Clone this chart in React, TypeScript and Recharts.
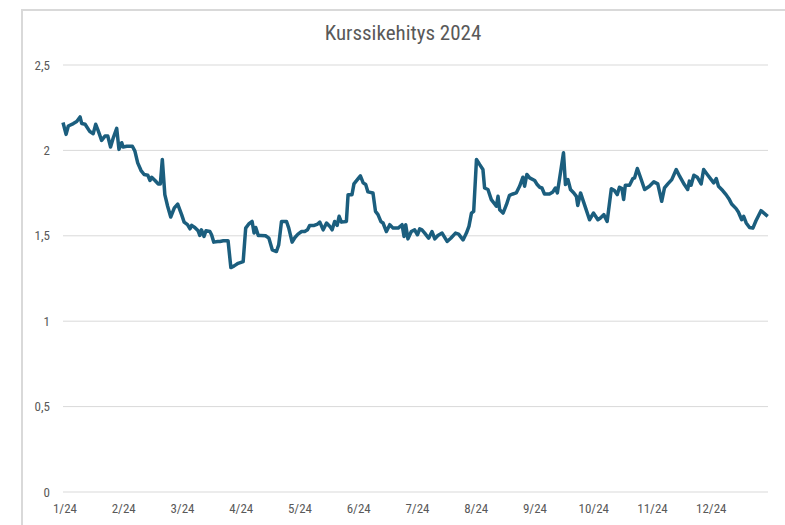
import React from "react";
import { LineChart, Line, XAxis, YAxis, CartesianGrid } from "recharts";

const chartTitle = "Kurssikehitys 2024";

// trading day index (0..252) for each reading
const tradingDays = [
  0, 1.1, 1.9, 3.7, 4.9, 6.1, 6.7, 7.9, 9.6, 10.8, 11.7, 12.6, 13.8, 15, 16, 17, 18, 19.2, 20, 21, 21.5, 22.8,
  24.8, 25.7, 26.7, 27.9, 29, 30.3, 31.1, 31.7, 32.9, 34, 34.8, 35.5, 36.4, 37.4, 38.5, 39.8, 41, 42.4, 43.3,
  44.5, 45.4, 46, 47.1, 48.3, 48.9, 49.5, 50.4, 51.1, 52.5, 53.1, 53.9, 55.3, 56.1, 57.3, 59, 60, 61.2, 62.6,
  64.4, 65.3, 66.4, 67.6, 68.3, 68.9, 69.8, 70.7, 72.4, 73.6, 74.8, 76.3, 77.1, 78.1, 79.9, 80.7, 81.9, 82.9,
  84, 85.3, 86.4, 87.4, 88.2, 89.8, 91, 91.8, 93, 94.2, 95.4, 96.2, 97.1, 98, 98.7, 99.5, 101.3, 101.9, 103.3,
  104, 105.5, 106.3, 107.3, 108.2, 109, 110.8, 111.7, 112.6, 113.6, 114.4, 115.6, 116.8, 118, 119.8, 121.2,
  121.9, 122.5, 123.3, 124.5, 125.7, 126.7, 127.5, 128.3, 129.3, 130.7, 131.9, 132.9, 134, 135.5, 137.3,
  138.6, 140.3, 141.4, 143, 144.2, 145.1, 146, 146.8, 147.8, 148.9, 150.1, 150.7, 151.9, 153.1, 154.3, 154.9,
  155.5, 156.1, 157.3, 158.5, 159.6, 160.8, 162, 163.2, 164.4, 165, 165.8, 166.8, 168.6, 169.5, 170.4, 171.2,
  172.1, 173.9, 175.1, 176, 176.7, 177.9, 178.9, 179.6, 180.5, 181.4, 182.6, 183.5, 184, 185, 185.8, 187,
  188.2, 189.6, 191.2, 192.1, 193.3, 194.5, 196, 197.1, 198.1, 198.9, 199.8, 200.4, 201, 202.5, 203.7, 204.3,
  205.3, 206.4, 207.9, 209.6, 211.2, 212.6, 214, 215, 216.2, 217.6, 219.2, 220.4, 222.1, 223.3, 223.9, 224.5,
  225.5, 226.7, 228.1, 229, 230.3, 231.7, 232.6, 233.5, 234.3, 235.8, 237, 238.2, 239, 240.6, 241.4, 242.6,
  243.3, 244.2, 245.4, 246.6, 247.7, 249.5, 251.9,
];

const closes = [
  2.163, 2.094, 2.143, 2.157, 2.169, 2.196, 2.157, 2.153, 2.11, 2.098, 2.153, 2.114, 2.059, 2.084, 2.084, 2.02,
  2.075, 2.129, 2.006, 2.045, 2.02, 2.024, 2.024, 1.996, 1.927, 1.882, 1.859, 1.855, 1.824, 1.843, 1.824, 1.804,
  1.804, 1.947, 1.741, 1.673, 1.61, 1.663, 1.686, 1.624, 1.58, 1.565, 1.541, 1.561, 1.549, 1.529, 1.502, 1.535,
  1.496, 1.529, 1.525, 1.506, 1.463, 1.467, 1.467, 1.471, 1.471, 1.314, 1.324, 1.339, 1.349, 1.545, 1.569,
  1.584, 1.516, 1.549, 1.502, 1.502, 1.5, 1.486, 1.418, 1.408, 1.447, 1.584, 1.584, 1.545, 1.463, 1.49, 1.51,
  1.525, 1.525, 1.535, 1.561, 1.561, 1.569, 1.58, 1.535, 1.575, 1.555, 1.535, 1.584, 1.561, 1.614, 1.58, 1.584,
  1.741, 1.741, 1.804, 1.835, 1.851, 1.81, 1.8, 1.757, 1.751, 1.643, 1.624, 1.584, 1.575, 1.525, 1.565, 1.545,
  1.545, 1.565, 1.496, 1.565, 1.482, 1.525, 1.535, 1.506, 1.541, 1.535, 1.516, 1.486, 1.525, 1.482, 1.502,
  1.516, 1.467, 1.486, 1.516, 1.51, 1.476, 1.516, 1.555, 1.633, 1.643, 1.947, 1.918, 1.888, 1.78, 1.771, 1.712,
  1.686, 1.673, 1.731, 1.653, 1.633, 1.682, 1.737, 1.745, 1.751, 1.79, 1.843, 1.79, 1.859, 1.839, 1.824, 1.8,
  1.784, 1.78, 1.745, 1.745, 1.757, 1.78, 1.751, 1.878, 1.986, 1.8, 1.829, 1.771, 1.751, 1.731, 1.678, 1.751,
  1.712, 1.653, 1.594, 1.633, 1.594, 1.604, 1.624, 1.584, 1.776, 1.765, 1.741, 1.784, 1.776, 1.712, 1.796,
  1.796, 1.835, 1.839, 1.894, 1.843, 1.771, 1.79, 1.816, 1.804, 1.702, 1.78, 1.804, 1.829, 1.888, 1.849, 1.8,
  1.771, 1.82, 1.796, 1.855, 1.843, 1.804, 1.888, 1.859, 1.829, 1.81, 1.835, 1.79, 1.765, 1.741, 1.712, 1.686,
  1.659, 1.639, 1.594, 1.614, 1.575, 1.549, 1.545, 1.588, 1.647, 1.614,
];

const monthTicks = [0, 21, 42, 63, 84, 105, 126, 147, 168, 189, 210, 231];
const monthLabels = ["1/24", "2/24", "3/24", "4/24", "5/24", "6/24", "7/24", "8/24", "9/24", "10/24", "11/24", "12/24"];
const yTicks = [0, 0.5, 1, 1.5, 2, 2.5];

const data = tradingDays.map((d, i) => ({ day: d, close: closes[i] }));

const FONT = "'Liberation Sans Narrow', 'Roboto Condensed', 'Arial Narrow', Roboto, sans-serif";

export default function App() {
  return (
    <div style={{ position: "absolute", left: 0, top: 0, width: 785, height: 525, background: "#fff", overflow: "hidden" }}>
      <div style={{ position: "absolute", left: 21, top: 9, width: 764, height: 516, borderLeft: "2px solid #d9d9d9", borderTop: "2px solid #d9d9d9" }} />
      <div
        style={{
          position: "absolute",
          left: 0,
          top: 21,
          width: 806,
          textAlign: "center",
          fontFamily: FONT,
          fontSize: 21,
          color: "#595959",
          lineHeight: "24px",
        }}
      >
        {chartTitle}
      </div>
      <div style={{ position: "absolute", left: 0, top: 0 }}>
        <LineChart width={785} height={525} data={data} margin={{ top: 65, right: 17, bottom: 3, left: 0 }}>
          <CartesianGrid vertical={false} stroke="#d9d9d9" strokeWidth={1} />
          <XAxis
            dataKey="day"
            type="number"
            domain={[0, 252]}
            ticks={monthTicks}
            tickFormatter={(v: number) => monthLabels[monthTicks.indexOf(v)] ?? ""}
            axisLine={false}
            tickLine={false}
            tickSize={0}
            tickMargin={12}
            height={30}
            interval={0}
            tick={{ fill: "#595959", fontSize: 13, fontFamily: FONT, dx: 2 }}
          />
          <YAxis
            type="number"
            domain={[0, 2.5]}
            ticks={yTicks}
            tickFormatter={(v: number) => String(v).replace(".", ",")}
            axisLine={false}
            tickLine={false}
            tickSize={0}
            tickMargin={13}
            width={63}
            tick={{ fill: "#595959", fontSize: 13, fontFamily: FONT }}
          />
          <Line
            type="linear"
            dataKey="close"
            stroke="#1b5e7e"
            strokeWidth={3.5}
            dot={false}
            strokeLinejoin="round"
            isAnimationActive={false}
          />
        </LineChart>
      </div>
    </div>
  );
}
